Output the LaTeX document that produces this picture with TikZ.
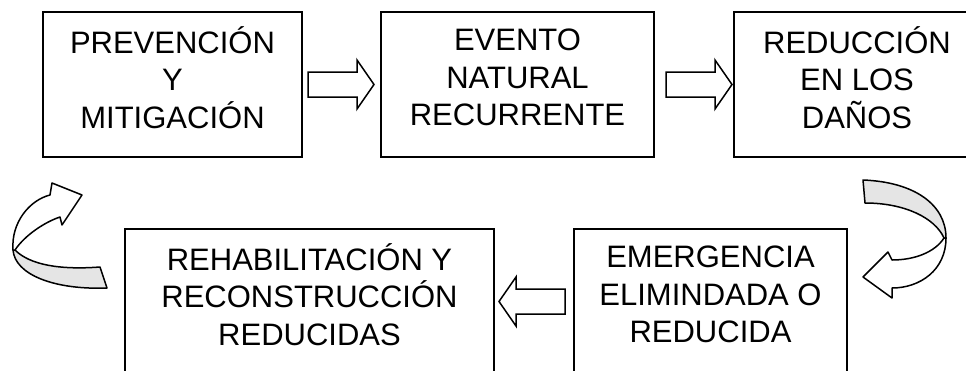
\documentclass[tikz,border=0pt]{standalone}
\usepackage{fontspec}
\setmainfont{Liberation Sans}

\begin{document}
\begin{tikzpicture}[x=1pt,y=-1pt,
  stagebox/.style={draw,line width=2pt,minimum height=145},
  stagetext/.style={align=center,yshift=7pt,font=\fontsize{31}{37.5}\selectfont},
  blockarrow/.style={draw,line width=1.5pt,fill=white,line join=miter},
  ribbon/.style={draw,line width=1.5pt,line join=round}]
\useasboundingbox (0,0) rectangle (966,370);
  \foreach \nm/\x/\y/\w/\txt in {p/172.5/84.5/259/{PREVENCIÓN\\Y\\MITIGACIÓN},
      e/517.5/84.5/273/{EVENTO\\NATURAL\\RECURRENTE},
      r/857/84.5/246/{REDUCCIÓN\\EN LOS\\DAÑOS},
      em/710.5/301.5/273/{EMERGENCIA\\ELIMINDADA O\\REDUCIDA},
      rc/309.5/301.5/369/{REHABILITACIÓN Y\\RECONSTRUCCIÓN\\REDUCIDAS}}
  {  \node [stagebox,minimum width=\w,label={[stagetext]center:{\txt}}] (\nm) at (\x,\y) {};}
  % block arrows
  \foreach \a/\off in {p/5,e/11}
  {  \draw[blockarrow] (\a.east) ++(\off,-12.5) -- ++(49,0) -- ++(0,-12) -- ++(17,24.5)
       -- ++(-17,24.5) -- ++(0,-12) -- ++(-49,0) -- cycle;}
  \draw[blockarrow] (em.west) ++(-8,-12.5) -- ++(-49,0) -- ++(0,-12) -- ++(-17,24.5)
       -- ++(17,24.5) -- ++(0,-12) -- ++(49,0) -- cycle;
  % curved arrow, right
  \draw[ribbon,fill=gray!20] (863,180) .. controls (915,182) and (946,205) .. (946,238)
       -- (944,238) .. controls (935,218) and (905,203) .. (865,203) -- cycle;
  \draw[ribbon,fill=white] (946,238) .. controls (946,270) and (920,288) .. (892,288)
       -- (892,298) -- (863,277) -- (888,252) -- (892,260)
       .. controls (915,260) and (935,252) .. (944,238) -- cycle;
  % curved arrow, left
  \draw[ribbon,fill=gray!20] (107,288) .. controls (55,290) and (15,275) .. (13,250)
       -- (15,250) .. controls (30,265) and (60,270) .. (100,267) -- cycle;
  \draw[ribbon,fill=white] (13,250) .. controls (11,222) and (30,200) .. (50,195)
       -- (52,183) -- (82,195) -- (62,225) -- (60,217)
       .. controls (45,222) and (25,235) .. (15,250) -- cycle;
\end{tikzpicture}
\end{document}
